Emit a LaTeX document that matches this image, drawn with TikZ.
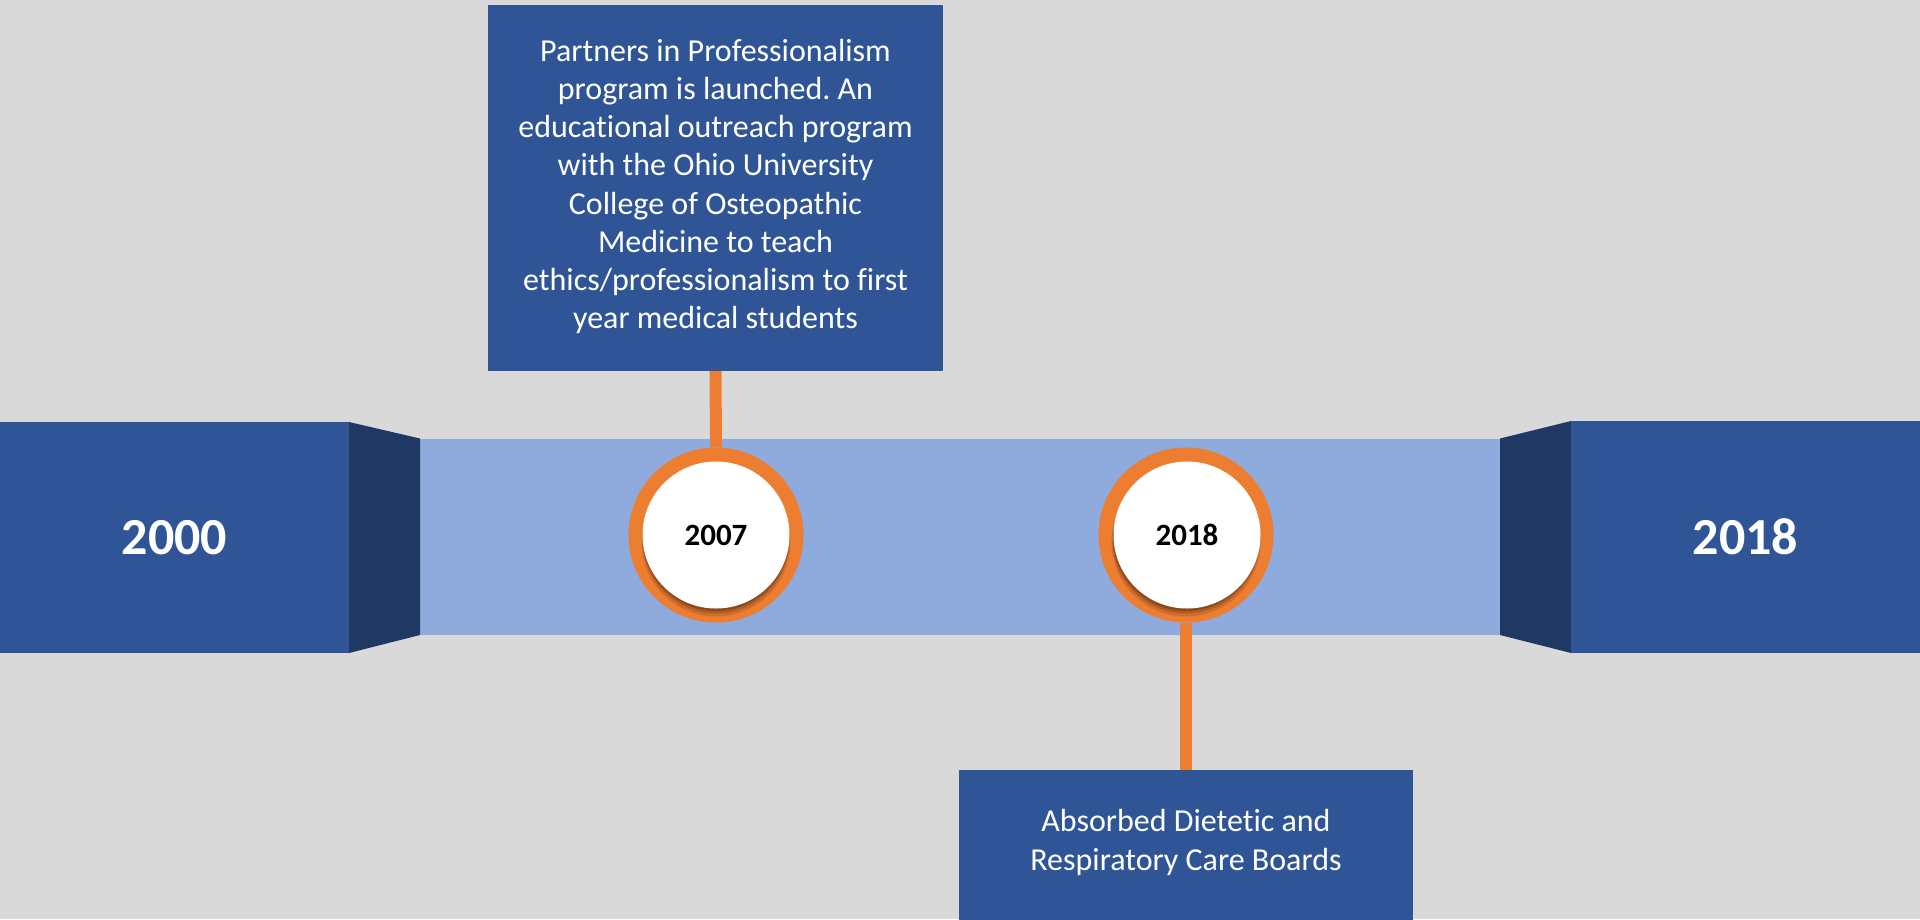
\documentclass[tikz,border=0pt]{standalone}
\usepackage{fontspec}
\setmainfont{Carlito}[Ligatures=NoCommon]
\frenchspacing
\definecolor{bg}{HTML}{D9D9D9}
\definecolor{blockblue}{HTML}{2F5597}
\definecolor{darkblue}{HTML}{203864}
\definecolor{bandblue}{HTML}{8FAADC}
\definecolor{ringorange}{HTML}{ED7D31}
\tikzset{
  yearblock/.style={rectangle, fill=blockblue, inner sep=0pt, text=white,
    font=\fontsize{52}{60}\selectfont\bfseries},
  eventbox/.style={rectangle, fill=blockblue, inner sep=0pt},
  eventtext/.style={text=white, align=center, inner sep=0pt,
    font=\fontsize{32}{38.2}\selectfont},
  ring/.style={circle, fill=ringorange, inner sep=0pt, minimum size=175pt},
  disc/.style={circle, fill=white, inner sep=0pt, minimum size=147pt,
    font=\fontsize{31}{36}\selectfont\bfseries, text=black},
  conn/.style={draw=ringorange, line width=12pt},
}
\begin{document}
\begin{tikzpicture}[x=1pt,y=-1pt]
\useasboundingbox (0,0) rectangle (1920,919);
\fill[bg] (0,0) rectangle (1920,919);
% band and 3D sides
\fill[bandblue] (420,438.5) rectangle (1500,635);
\fill[darkblue] (349,422) -- (420,438.5) -- (420,635) -- (349,653) -- cycle;
\fill[darkblue] (1571,421) -- (1500,438.5) -- (1500,635) -- (1571,653) -- cycle;
% end blocks
\node[yearblock, minimum width=349pt, minimum height=231pt] (y2000) at (174.5,537.5) {2000};
\node[yearblock, minimum width=349pt, minimum height=232pt] (y2018) at (1745.5,537) {2018};
% event boxes
\node[eventbox, minimum width=455pt, minimum height=366pt] (box1) at (715.5,188) {};
\node[eventtext] (t1) at (715.5,186.5) {Partners in Professionalism\\program is launched. An\\educational outreach program\\with the Ohio University\\College of Osteopathic\\Medicine to teach\\ethics/professionalism to first\\year medical students};
\node[eventbox, minimum width=454pt, minimum height=170pt, anchor=north] (box2) at (1186,770) {};
\node[eventtext] (t2) at (1186,842.5) {Absorbed Dietetic and\\Respiratory Care Boards};
% rings
\node[ring] (r2007) at (716,535) {};
\node[ring] (r2018) at (1186,535) {};
\draw[conn] (box1.south) -- (r2007.north);
\draw[conn] (r2018.south) -- (box2.north);
% shadows
\foreach \c in {r2007,r2018}{
  \fill[black, opacity=0.12] ([yshift=-7pt]\c.center) circle (74.5pt);
  \fill[black, opacity=0.15] ([yshift=-5pt]\c.center) circle (73.5pt);
  \fill[black, opacity=0.2] ([yshift=-3pt]\c.center) circle (73pt);
}
\node[disc] (d2007) at (716,535) {2007};
\node[disc] (d2018) at (1187,535) {2018};
\end{tikzpicture}
\end{document}
